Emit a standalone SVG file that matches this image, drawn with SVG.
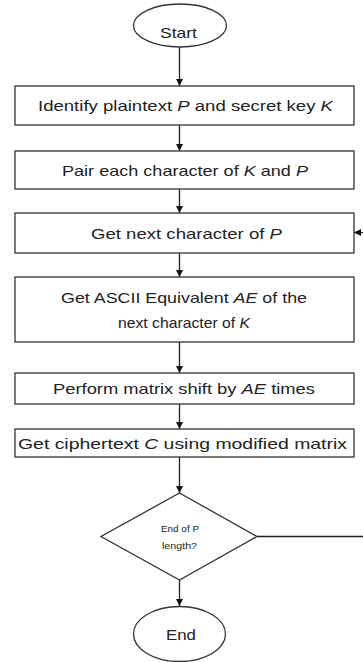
<svg xmlns="http://www.w3.org/2000/svg" width="363" height="662" viewBox="0 0 363 662">
  <style>
    .shape { fill: #ffffff; stroke: #333333; stroke-width: 1.3; }
    .label { font-family: "Liberation Sans", Arial, sans-serif; font-size: 15px; fill: #222222; text-anchor: middle; }
    .small { font-size: 9.5px; }
    .it { font-style: italic; }
    .wire { fill: none; stroke: #222222; stroke-width: 1.3; }
  </style>
  <defs>
    <marker id="arrow" viewBox="0 0 10 10" refX="10" refY="5" markerWidth="7" markerHeight="7" markerUnits="userSpaceOnUse" orient="auto">
      <path d="M0,0 L10,5 L0,10 z" fill="#111111"/>
    </marker>
  </defs>
  <rect width="363" height="662" fill="#ffffff"/>

  <g id="connectors">
    <line class="wire" x1="179.5" y1="47" x2="179.5" y2="86" marker-end="url(#arrow)"/>
    <line class="wire" x1="179.5" y1="125" x2="179.5" y2="151" marker-end="url(#arrow)"/>
    <line class="wire" x1="179.5" y1="189" x2="179.5" y2="213" marker-end="url(#arrow)"/>
    <line class="wire" x1="179.5" y1="253" x2="179.5" y2="277" marker-end="url(#arrow)"/>
    <line class="wire" x1="179.5" y1="342" x2="179.5" y2="373" marker-end="url(#arrow)"/>
    <line class="wire" x1="179.5" y1="404" x2="179.5" y2="429" marker-end="url(#arrow)"/>
    <line class="wire" x1="179.5" y1="457" x2="179.5" y2="493" marker-end="url(#arrow)"/>
    <line class="wire" x1="179.5" y1="580" x2="179.5" y2="606" marker-end="url(#arrow)"/>
    <!-- loop back from the decision to "Get next character" -->
    <line class="wire" x1="257" y1="536.5" x2="363" y2="536.5"/>
    <line class="wire" x1="363" y1="232.5" x2="354" y2="232.5" marker-end="url(#arrow)"/>
  </g>

  <g id="start">
    <ellipse class="shape" cx="180" cy="25.5" rx="46.5" ry="21.5"/>
    <text class="label" x="178.5" y="37.5" textLength="37" lengthAdjust="spacingAndGlyphs">Start</text>
  </g>

  <g id="identify">
    <rect class="shape" x="15" y="86" width="339" height="39"/>
    <text class="label" x="185.5" y="111" textLength="295" lengthAdjust="spacingAndGlyphs">Identify plaintext <tspan class="it">P</tspan> and secret key <tspan class="it">K</tspan></text>
  </g>

  <g id="pair">
    <rect class="shape" x="15" y="151" width="339" height="38"/>
    <text class="label" x="185" y="175.5" textLength="246" lengthAdjust="spacingAndGlyphs">Pair each character of <tspan class="it">K</tspan> and <tspan class="it">P</tspan></text>
  </g>

  <g id="next-char">
    <rect class="shape" x="15" y="213" width="339" height="40"/>
    <text class="label" x="186.5" y="238.5" textLength="191" lengthAdjust="spacingAndGlyphs">Get next character of <tspan class="it">P</tspan></text>
  </g>

  <g id="ascii">
    <rect class="shape" x="15" y="277" width="339" height="65"/>
    <text class="label" x="184" y="302.5" textLength="246" lengthAdjust="spacingAndGlyphs">Get ASCII Equivalent <tspan class="it">AE</tspan> of the</text>
    <text class="label" x="184" y="327.5" textLength="132" lengthAdjust="spacingAndGlyphs">next character of <tspan class="it">K</tspan></text>
  </g>

  <g id="shift">
    <rect class="shape" x="15" y="373" width="339" height="31"/>
    <text class="label" x="184" y="394" textLength="262" lengthAdjust="spacingAndGlyphs">Perform matrix shift by <tspan class="it">AE</tspan> times</text>
  </g>

  <g id="cipher">
    <rect class="shape" x="15" y="429" width="339" height="28"/>
    <text class="label" x="182.5" y="448.5" textLength="329" lengthAdjust="spacingAndGlyphs">Get ciphertext <tspan class="it">C</tspan> using modified matrix</text>
  </g>

  <g id="decision">
    <polygon class="shape" points="179.5,493 257,536.5 179.5,580 101,536.5"/>
    <text class="label small" x="180" y="532" textLength="38" lengthAdjust="spacingAndGlyphs">End of P</text>
    <text class="label small" x="179.5" y="548.5" textLength="35" lengthAdjust="spacingAndGlyphs">length?</text>
  </g>

  <g id="end">
    <ellipse class="shape" cx="179.5" cy="634" rx="46" ry="27.5"/>
    <text class="label" x="181" y="640" textLength="30" lengthAdjust="spacingAndGlyphs">End</text>
  </g>
</svg>
